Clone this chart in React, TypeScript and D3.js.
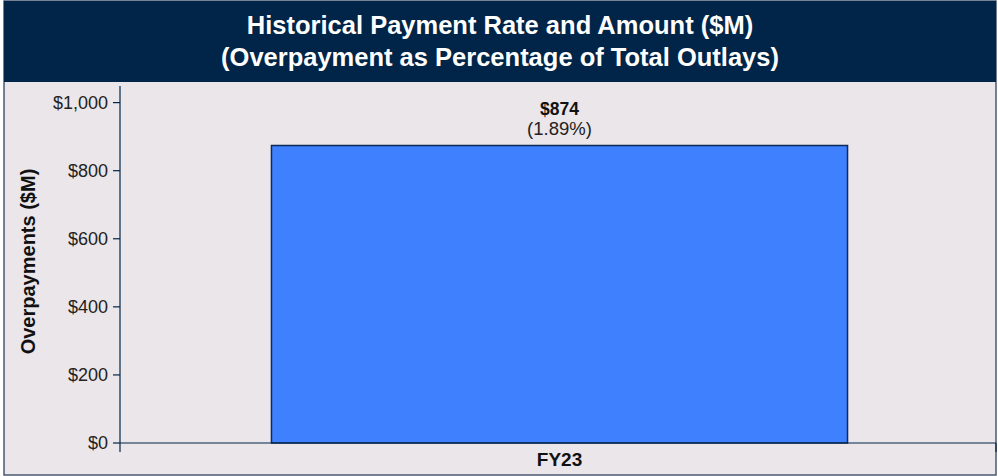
import React from "react";
import * as d3 from "d3";

const categories = ["FY23"];
const amounts = [874];
const rates = ["1.89%"];
const yTickValues = [0, 200, 400, 600, 800, 1000];
const titleLines = ["Historical Payment Rate and Amount ($M)", "(Overpayment as Percentage of Total Outlays)"];
const yAxisTitle = "Overpayments ($M)";

const W = 998;
const H = 476;
const FONT = "'Liberation Sans', Arial, Helvetica, sans-serif";

export default function App() {
  const left = 120;
  const right = 996;
  const top = 86;
  const bottom = 443;
  const yMax = d3.max(amounts)! * 1.2;
  const y = d3.scaleLinear().domain([0, yMax]).range([bottom, top]);
  const x = d3.scaleBand<string>().domain(categories).range([left + 2, right + 1]).padding(0.206);
  const fmt = (v: number) => "$" + d3.format(",")(v);
  const navy = "#002548";

  return (
    <svg width={W} height={H} style={{ position: "absolute", left: 0, top: 0 }} fontFamily={FONT}>
      <rect x={0} y={0} width={W} height={H} fill="#ffffff" />
      <rect x={4} y={1} width={992} height={474} fill="#ebe6ea" stroke="#4a5a70" strokeWidth={1.5} />
      <rect x={4} y={1} width={992} height={81} fill={navy} />
      {titleLines.map((t, i) => (
        <text key={i} x={500} y={34 + i * 32} textAnchor="middle" fill="#ffffff" fontWeight="bold" fontSize={25.5}>
          {t}
        </text>
      ))}
      {/* y axis */}
      <line x1={left} x2={left} y1={top} y2={bottom} stroke={navy} strokeWidth={1.2} />
      {yTickValues.map((v) => (
        <g key={v}>
          <line x1={left - 7} x2={left} y1={y(v)} y2={y(v)} stroke={navy} strokeWidth={1.2} />
          <text x={left - 12} y={y(v)} dy="0.35em" textAnchor="end" fontSize={18} fill="#222">
            {fmt(v)}
          </text>
        </g>
      ))}
      <text
        transform={`translate(35,${261.5}) rotate(-90)`}
        textAnchor="middle"
        fontWeight="bold"
        fontSize={20}
        fill="#111"
      >
        {yAxisTitle}
      </text>
      {/* bars */}
      {categories.map((c, i) => (
        <g key={c}>
          <rect
            x={x(c)!}
            y={y(amounts[i])}
            width={x.bandwidth()}
            height={bottom - y(amounts[i])}
            fill="#3f80ff"
            stroke="#0b2a55"
            strokeWidth={1.5}
          />
          <text x={x(c)! + x.bandwidth() / 2} y={y(amounts[i]) - 31} textAnchor="middle" fontWeight="bold" fontSize={17.5} fill="#111">
            {fmt(amounts[i])}
          </text>
          <text x={x(c)! + x.bandwidth() / 2} y={y(amounts[i]) - 11} textAnchor="middle" fontSize={18.5} fill="#222">
            ({rates[i]})
          </text>
          <text x={x(c)! + x.bandwidth() / 2} y={466} textAnchor="middle" fontWeight="bold" fontSize={19} fill="#111">
            {c}
          </text>
        </g>
      ))}
      {/* x axis */}
      <line x1={left} x2={right} y1={bottom} y2={bottom} stroke={navy} strokeWidth={1.2} />
      <line x1={left} x2={left} y1={bottom} y2={bottom + 9} stroke={navy} strokeWidth={1.2} />
      <line x1={right} x2={right} y1={bottom} y2={bottom + 9} stroke={navy} strokeWidth={1.2} />
    </svg>
  );
}
